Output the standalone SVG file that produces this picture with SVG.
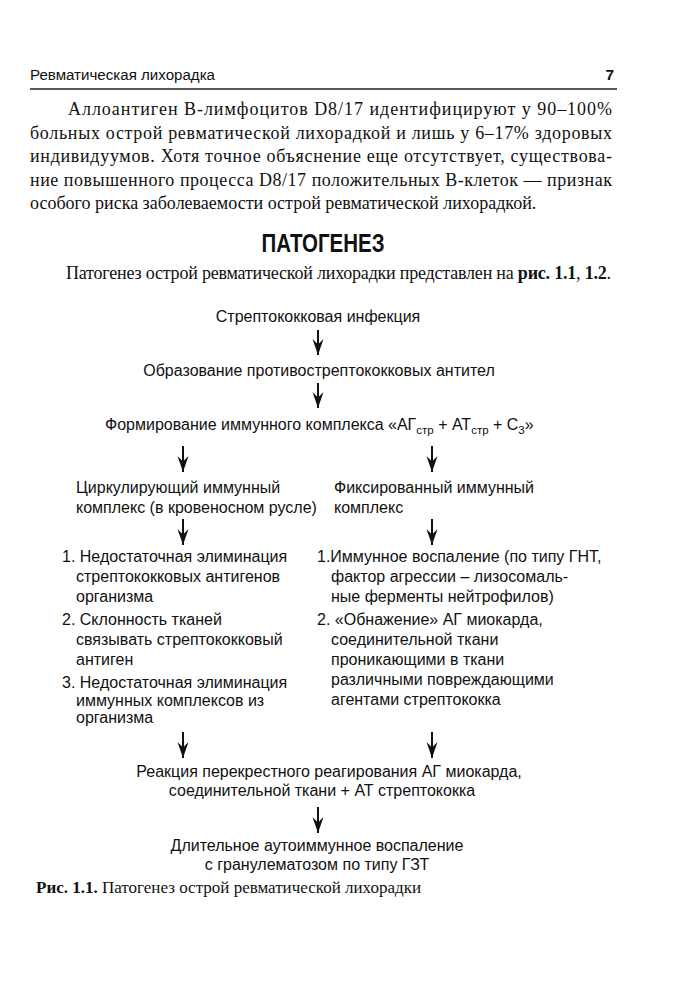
<svg xmlns="http://www.w3.org/2000/svg" width="683" height="1000" viewBox="0 0 683 1000">
<defs>
<style>
.hdr{font-family:"Liberation Sans",Arial,sans-serif;font-size:15.5px;fill:#111}
.body{font-family:"Liberation Serif","Times New Roman",serif;font-size:18px;fill:#111}
.cap{font-family:"Liberation Serif","Times New Roman",serif;font-size:17px;fill:#111}
.b{font-weight:bold}
.fc{font-family:"Liberation Sans",Arial,sans-serif;font-size:16px;fill:#111}
.mid{text-anchor:middle}
.sub{font-size:11.5px}
.conn line{stroke:#111;stroke-width:2;marker-end:url(#ah)}
</style>
<marker id="ah" markerUnits="userSpaceOnUse" orient="auto" refX="0" refY="0" markerWidth="20" markerHeight="20" overflow="visible">
<path d="M0,0 L-16,-5.5 L-10.5,0 L-16,5.5 Z" fill="#111"/>
</marker>
</defs>
<rect width="683" height="1000" fill="#fff"/>

<g id="header">
<text class="hdr" x="30" y="80" textLength="185" lengthAdjust="spacingAndGlyphs">Ревматическая лихорадка</text>
<text class="hdr b" x="614" y="80" text-anchor="end" font-size="16">7</text>
<line x1="30" y1="89" x2="617" y2="89" stroke="#222" stroke-width="1.5"/>
</g>

<g id="paragraph">
<text class="body" x="68" y="115" textLength="544" lengthAdjust="spacing">Аллоантиген В-лимфоцитов D8/17 идентифицируют у 90–100%</text>
<text class="body" x="30" y="139" textLength="582" lengthAdjust="spacing">больных острой ревматической лихорадкой и лишь у 6–17% здоровых</text>
<text class="body" x="30" y="162" textLength="582" lengthAdjust="spacing">индивидуумов. Хотя точное объяснение еще отсутствует, существова-</text>
<text class="body" x="30" y="186" textLength="582" lengthAdjust="spacing">ние повышенного процесса D8/17 положительных В-клеток — признак</text>
<text class="body" x="30" y="209">особого риска заболеваемости острой ревматической лихорадкой.</text>
</g>

<g id="title">
<text x="323" y="252" text-anchor="middle" font-family="Liberation Sans,Arial,sans-serif" font-weight="bold" font-size="25" fill="#111" textLength="123" lengthAdjust="spacingAndGlyphs">ПАТОГЕНЕЗ</text>
<text class="body" x="66" y="279" textLength="545" lengthAdjust="spacing">Патогенез острой ревматической лихорадки представлен на <tspan class="b">рис. 1.1</tspan>, <tspan class="b">1.2</tspan>.</text>
</g>

<g id="n1"><text class="fc mid" x="318" y="322">Стрептококковая инфекция</text></g>
<g id="n2"><text class="fc mid" x="319" y="376">Образование противострептококковых антител</text></g>
<g id="n3"><text class="fc" x="105" y="430">Формирование иммунного  комплекса «АГ<tspan class="sub" dy="4">стр</tspan><tspan dy="-4"> + АТ</tspan><tspan class="sub" dy="4">стр</tspan><tspan dy="-4"> + С</tspan><tspan class="sub" dy="4">3</tspan><tspan dy="-4">»</tspan></text></g>

<g id="n4">
<text class="fc" x="76" y="493">Циркулирующий иммунный</text>
<text class="fc" x="76" y="513">комплекс (в кровеносном русле)</text>
</g>
<g id="n5">
<text class="fc" x="334" y="493">Фиксированный иммунный</text>
<text class="fc" x="334" y="513">комплекс</text>
</g>

<g id="n6">
<text class="fc" x="62" y="562">1. Недостаточная элиминация</text>
<text class="fc" x="76" y="582">стрептококковых антигенов</text>
<text class="fc" x="76" y="602">организма</text>
<text class="fc" x="62" y="625">2. Склонность тканей</text>
<text class="fc" x="76" y="645">связывать стрептококковый</text>
<text class="fc" x="76" y="665">антиген</text>
<text class="fc" x="62" y="688">3. Недостаточная элиминация</text>
<text class="fc" x="76" y="706">иммунных комплексов из</text>
<text class="fc" x="76" y="723">организма</text>
</g>
<g id="n7">
<text class="fc" x="317" y="562">1.Иммунное воспаление (по типу ГНТ,</text>
<text class="fc" x="331" y="582">фактор агрессии – лизосомаль-</text>
<text class="fc" x="331" y="602">ные ферменты нейтрофилов)</text>
<text class="fc" x="317" y="625">2. «Обнажение» АГ миокарда,</text>
<text class="fc" x="331" y="645">соединительной ткани</text>
<text class="fc" x="331" y="665">проникающими в ткани</text>
<text class="fc" x="331" y="685">различными повреждающими</text>
<text class="fc" x="331" y="705">агентами стрептококка</text>
</g>

<g id="n8">
<text class="fc mid" x="329" y="777">Реакция перекрестного реагирования АГ миокарда,</text>
<text class="fc mid" x="322" y="796">соединительной ткани + АТ стрептококка</text>
</g>
<g id="n9">
<text class="fc mid" x="317" y="851">Длительное аутоиммунное воспаление</text>
<text class="fc mid" x="317" y="870">с гранулематозом по типу ГЗТ</text>
</g>

<g id="caption">
<text class="cap" x="36" y="893"><tspan class="b">Рис. 1.1.</tspan> Патогенез острой ревматической лихорадки</text>
</g>

<g id="connectors" class="conn">
<line x1="318" y1="330" x2="318" y2="355"/>
<line x1="318" y1="383" x2="318" y2="408"/>
<line x1="183" y1="446" x2="183" y2="472"/>
<line x1="432" y1="446" x2="432" y2="472"/>
<line x1="183" y1="519" x2="183" y2="545"/>
<line x1="432" y1="519" x2="432" y2="545"/>
<line x1="183" y1="732" x2="183" y2="758"/>
<line x1="432" y1="732" x2="432" y2="758"/>
<line x1="318" y1="807" x2="318" y2="833"/>
</g>
</svg>
